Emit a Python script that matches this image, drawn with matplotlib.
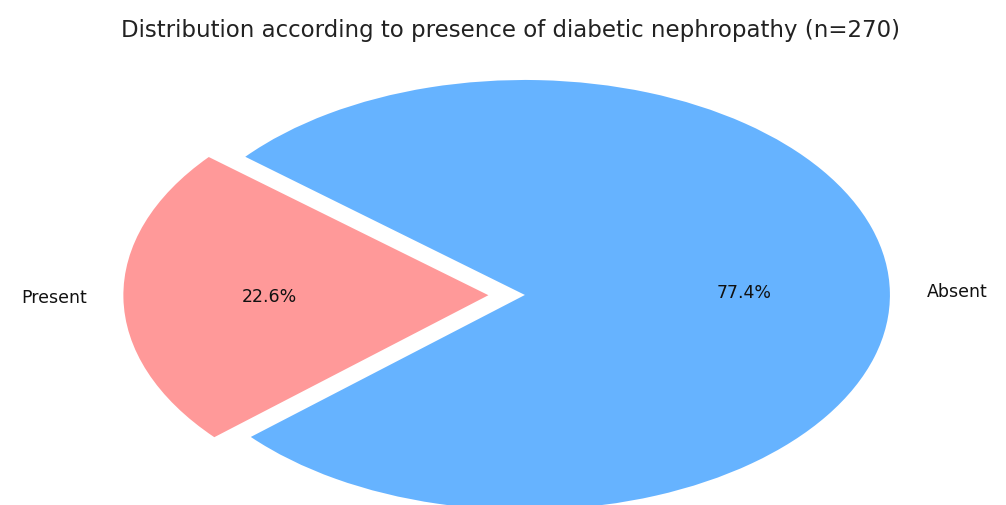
import matplotlib
matplotlib.use("Agg")
import matplotlib.pyplot as plt

# ---------------------------------------------------------------------------
# Data
# ---------------------------------------------------------------------------
labels = ["Present", "Absent"]
counts = [61, 209]
colors = ["#ff9999", "#66b3ff"]
explode = [0.1, 0.0]
title = "Distribution according to presence of diabetic nephropathy (n=270)"

# ---------------------------------------------------------------------------
# Plot (the pie is stretched horizontally like the reference)
# ---------------------------------------------------------------------------
fig = plt.figure(figsize=(10.06, 5.05), dpi=100)
ax = fig.add_axes([0, 0, 1, 1])

wedges, texts, autotexts = ax.pie(
    counts, labels=labels, colors=colors, explode=explode,
    autopct="%1.1f%%", startangle=140,
    textprops={"fontsize": 12.5, "color": "#111111"},
)
ax.set_aspect("auto")
ax.set_xlim(-1.438, 1.318)
ax.set_ylim(-0.977, 1.372)
ax.axis("off")

fig.text(0.507, 0.94, title, ha="center", va="center", fontsize=16.5, color="#222222")

fig.savefig("out.png", dpi=100)
plt.close(fig)
